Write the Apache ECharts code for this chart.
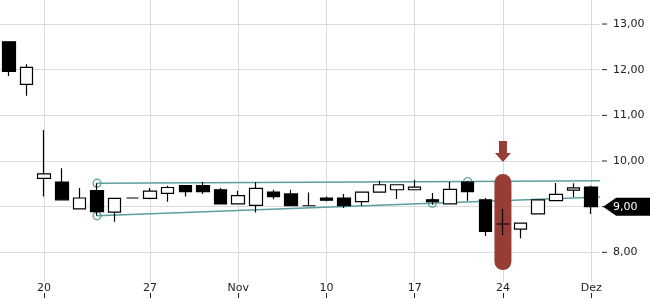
<!DOCTYPE html>
<html><head><meta charset="utf-8">
<script src="https://cdn.jsdelivr.net/npm/echarts@6/dist/echarts.min.js"></script>
<style>html,body{margin:0;padding:0;background:#fff}#c{width:650px;height:300px}</style>
</head><body><div id="c"></div>
<script>
const dates = ['2014-10-16','2014-10-17','2014-10-20','2014-10-21','2014-10-22','2014-10-23','2014-10-24','2014-10-25',
  '2014-10-27','2014-10-28','2014-10-29','2014-10-30','2014-10-31','2014-11-03','2014-11-04','2014-11-05','2014-11-06','2014-11-07',
  '2014-11-10','2014-11-11','2014-11-12','2014-11-13','2014-11-14','2014-11-17','2014-11-18','2014-11-19','2014-11-20','2014-11-21',
  '2014-11-24','2014-11-25','2014-11-26','2014-11-27','2014-11-28','2014-12-01'];
const opens  = [12.61,11.68,9.62,9.54,8.95,9.35,8.88,9.19,9.18,9.29,9.46,9.46,9.37,9.06,9.03,9.32,9.28,9.02,9.19,9.19,9.11,9.32,9.37,9.37,9.15,9.06,9.54,9.15,8.62,8.51,8.84,9.13,9.36,9.43];
const closes = [11.96,12.05,9.72,9.15,9.19,8.89,9.18,9.19,9.34,9.42,9.33,9.33,9.06,9.24,9.40,9.22,9.02,9.02,9.14,9.02,9.32,9.48,9.48,9.43,9.11,9.38,9.33,8.46,8.62,8.64,9.15,9.27,9.41,9.00];
const lows   = [11.86,11.43,9.22,9.15,8.95,8.80,8.67,9.19,9.16,9.11,9.22,9.28,9.06,9.06,8.87,9.16,9.02,9.02,9.12,8.97,9.02,9.32,9.17,9.37,9.04,9.06,9.13,8.36,8.38,8.31,8.84,9.13,9.21,8.84];
const highs  = [12.61,12.12,10.68,9.84,9.41,9.51,9.18,9.19,9.41,9.46,9.47,9.54,9.41,9.35,9.54,9.37,9.37,9.31,9.22,9.28,9.32,9.57,9.48,9.59,9.30,9.54,9.56,9.19,8.95,8.64,9.15,9.52,9.51,9.46];

const xTickDates  = ['2014-10-20','2014-10-27','2014-11-03','2014-11-10','2014-11-17','2014-11-24','2014-12-01'];
const xTickLabels = ['20','27','Nov','10','17','24','Dez'];
const yTicks = [8, 9, 10, 11, 12, 13];

// trend lines: [category index, value]
const trendUpper = [[5, 9.514], [26, 9.551], [33.5, 9.565]];
const trendLower = [[5, 8.799], [24, 9.076], [33.5, 9.214]];

const highlightDate = '2014-11-24';
const highlightTop = 9.706, highlightBottom = 7.617;
const arrowValue = 10.21;

const candleData = dates.map((d, i) => [opens[i], closes[i], lows[i], highs[i]]);
const fmtNum = v => v.toFixed(2).replace('.', ',');
const isTick = (idx, val) => xTickDates.includes(val !== undefined ? val : dates[idx]);
const FONT = 'DejaVu Sans';
const RED = '#983c36';
const TEAL = '#5b9ea0';
const last = dates.length - 1;

const chart = echarts.init(document.getElementById('c'), null, {renderer: 'canvas'});
chart.setOption({
  animation: false,
  backgroundColor: '#fff',
  grid: {left: 0, right: 50, top: 0, bottom: 18, containLabel: false},
  xAxis: [{
    type: 'category', data: dates, boundaryGap: true,
    axisLine: {show: false},
    axisTick: {show: false},
    axisLabel: {interval: isTick, formatter: v => { const i = xTickDates.indexOf(v); return i >= 0 ? xTickLabels[i] : ''; },
      margin: 1, color: '#222', fontSize: 11, fontFamily: FONT},
    splitLine: {show: true, interval: isTick, alignWithLabel: true, lineStyle: {color: '#dcdcdc', width: 1}}
  }, {
    type: 'value', min: -0.5, max: 33.5, show: false
  }, {
    type: 'category', data: dates, boundaryGap: true, position: 'bottom', offset: 11,
    axisLine: {show: false},
    axisTick: {show: true, length: 5, interval: isTick, alignWithLabel: true, lineStyle: {color: '#222'}},
    axisLabel: {show: false},
    splitLine: {show: false}
  }],
  yAxis: {
    type: 'value', position: 'right', min: 7.35, max: 13.526, splitNumber: 6,
    axisLine: {show: false},
    axisTick: {show: false},
    axisLabel: {customValues: yTicks, margin: 2, color: '#222', fontSize: 11, fontFamily: FONT,
      formatter: v => '{t|}{s|}' + fmtNum(v),
      rich: {t: {width: 5, height: 1, backgroundColor: '#222'}, s: {width: 6}}},
    splitLine: {show: true, showMinLine: false, showMaxLine: false, lineStyle: {color: '#dcdcdc'}}
  },
  series: [{
    type: 'line', xAxisIndex: 1, z: 1, silent: true,
    data: trendUpper.map((p, i) => ({value: p, symbol: i < 2 ? 'circle' : 'none'})),
    symbolSize: 8, showSymbol: true,
    itemStyle: {color: 'rgba(255,255,255,0)', borderColor: TEAL, borderWidth: 1.2},
    lineStyle: {color: TEAL, width: 1.5}
  }, {
    type: 'line', xAxisIndex: 1, z: 1, silent: true,
    data: trendLower.map((p, i) => ({value: p, symbol: i < 2 ? 'circle' : 'none'})),
    symbolSize: 8, showSymbol: true,
    itemStyle: {color: 'rgba(255,255,255,0)', borderColor: TEAL, borderWidth: 1.2},
    lineStyle: {color: TEAL, width: 1.5}
  }, {
    type: 'candlestick', xAxisIndex: 0, z: 3, barWidth: 13,
    data: candleData,
    itemStyle: {color: '#fff', color0: '#000', borderColor: '#000', borderColor0: '#000', borderWidth: 1.2},
    markPoint: {
      z: 2, silent: true, animation: false,
      data: [{
        coord: [highlightDate, (highlightTop + highlightBottom) / 2], value: 0,
        symbol: 'path://M0,8.5A8.5,8.5 0 0 1 17,8.5L17,87.5A8.5,8.5 0 0 1 0,87.5Z',
        symbolSize: [17, 96], itemStyle: {color: RED}, label: {show: false}
      }, {
        coord: [highlightDate, arrowValue], value: 0,
        symbol: 'path://M4,0L12,0L12,12L16,12L8,21L0,12L4,12Z',
        symbolSize: [16, 21], itemStyle: {color: RED}, label: {show: false}
      }, {
        coord: [dates[last], closes[last]], value: closes[last],
        symbol: 'path://M0,9L13,0L50,0L50,18L13,18Z',
        symbolSize: [50, 18], symbolOffset: [37, 0], itemStyle: {color: '#000'},
        label: {show: true, position: 'inside', offset: [-3, 0], color: '#fff', fontSize: 11, fontFamily: FONT,
          formatter: p => fmtNum(p.value)}
      }]
    }
  }]
});
</script></body></html>
